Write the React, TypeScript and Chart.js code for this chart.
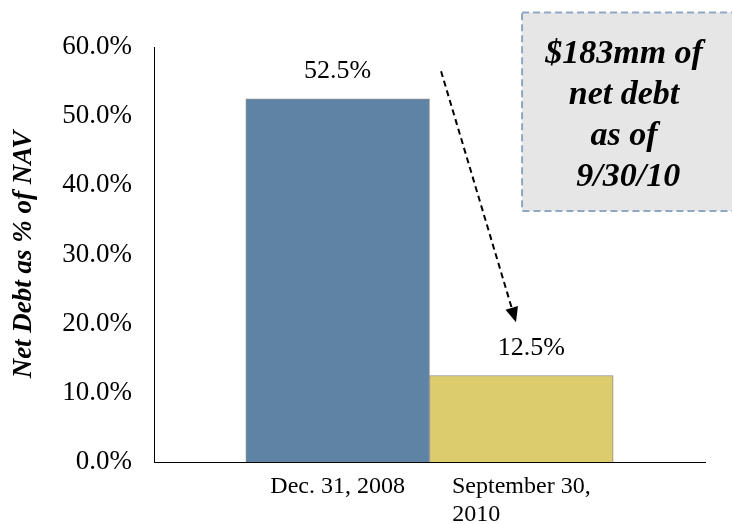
import React, { useEffect, useRef } from "react";
import { Chart, registerables } from "chart.js";

Chart.register(...registerables);

const categories: string[] = ["Dec. 31, 2008", "September 30,\n2010"];
const positions: number[] = [0, 1];
const values: number[] = [52.5, 12.5];
const valueLabels: string[] = ["52.5%", "12.5%"];
const barColors: string[] = ["#5f83a5", "#dccc6e"];
const yTicks: number[] = [0, 10, 20, 30, 40, 50, 60];
const yTitle = "Net Debt as % of NAV";
const calloutLines: string[] = ["$183mm of", "net debt", "as of", " 9/30/10"];

const SERIF = "'Liberation Serif', 'Times New Roman', serif";

const overlayPlugin = {
  id: "overlay",
  afterDatasetsDraw(chart: any) {
    const ctx = chart.ctx;
    const xs = chart.scales.x;
    const ys = chart.scales.y;
    const meta = chart.getDatasetMeta(0);
    ctx.save();
    // value labels
    ctx.font = `26px ${SERIF}`;
    ctx.fillStyle = "#000";
    ctx.textAlign = "center";
    ctx.textBaseline = "alphabetic";
    meta.data.forEach((bar: any, i: number) => {
      ctx.fillText(valueLabels[i], bar.x + (i === 1 ? 10 : 0), bar.y - 21);
    });

    // callout box
    const bx = xs.getPixelForValue(1.004);
    const by = ys.getPixelForValue(65);
    const bb = ys.getPixelForValue(36.3);
    ctx.fillStyle = "#e6e6e6";
    ctx.fillRect(bx, by, 740 - bx, bb - by);
    ctx.setLineDash([7, 4]);
    ctx.strokeStyle = "#8fa8c2";
    ctx.lineWidth = 2;
    ctx.strokeRect(bx, by, 740 - bx, bb - by);
    ctx.setLineDash([]);
    ctx.fillStyle = "#000";
    ctx.font = `bold italic 34px ${SERIF}`;
    ctx.textAlign = "center";
    const cx = bx + 102;
    calloutLines.forEach((line, i) => {
      ctx.fillText(line, cx, by + 51 + i * 40.7);
    });

    // dashed arrow
    const x1 = xs.getPixelForValue(0.563);
    const y1 = ys.getPixelForValue(56.5);
    const x2 = xs.getPixelForValue(0.971);
    const y2 = ys.getPixelForValue(20.2);
    const ang = Math.atan2(y2 - y1, x2 - x1);
    const headLen = 15;
    const hx = x2 - headLen * Math.cos(ang);
    const hy = y2 - headLen * Math.sin(ang);
    ctx.strokeStyle = "#000";
    ctx.lineWidth = 2;
    ctx.setLineDash([6, 4]);
    ctx.beginPath();
    ctx.moveTo(x1, y1);
    ctx.lineTo(hx, hy);
    ctx.stroke();
    ctx.setLineDash([]);
    ctx.beginPath();
    ctx.moveTo(x2, y2);
    ctx.lineTo(hx + 6.5 * Math.sin(ang), hy - 6.5 * Math.cos(ang));
    ctx.lineTo(hx - 6.5 * Math.sin(ang), hy + 6.5 * Math.cos(ang));
    ctx.closePath();
    ctx.fillStyle = "#000";
    ctx.fill();
    ctx.restore();
  },
};

export default function App() {
  const ref = useRef<HTMLCanvasElement | null>(null);
  useEffect(() => {
    document.body.style.margin = "0";
    const canvas = ref.current;
    if (!canvas) return;
    const padded = (s: string) => {
      const lines = s.split("\n");
      if (lines.length === 1) return s;
      const ctx = canvas.getContext("2d")!;
      ctx.font = `24px ${SERIF}`;
      const w0 = ctx.measureText(lines[0]).width;
      const sp = ctx.measureText(" ").width;
      return lines.map((l) => {
        const w = ctx.measureText(l).width;
        const n = Math.max(0, Math.round((w0 - w) / sp));
        return l + " ".repeat(n);
      });
    };
    const chart = new Chart(canvas, {
      type: "bar",
      data: {
        datasets: [
          {
            data: positions.map((p, i) => ({ x: p, y: values[i] })),
            backgroundColor: barColors,
            borderColor: "#8e8e8e",
            borderWidth: 1,
            barPercentage: 1,
            categoryPercentage: 1,
          },
        ],
      },
      options: {
        animation: false,
        responsive: false,
        maintainAspectRatio: false,
        layout: { padding: { left: 0, right: 27, top: 47, bottom: 0 } },
        plugins: { legend: { display: false }, tooltip: { enabled: false } },
        scales: {
          x: {
            type: "linear",
            min: -1,
            max: 2,
            offset: false,
            grid: { display: false, offset: false },
            border: { display: true, color: "#000", width: 1 },
            afterBuildTicks: (scale: any) => {
              scale.ticks = positions.map((v) => ({ value: v }));
            },
            afterFit: (scale: any) => {
              scale.height = 62;
            },
            ticks: {
              autoSkip: false,
              maxRotation: 0,
              padding: 3,
              color: "#000",
              font: { family: SERIF, size: 24, lineHeight: 1.15 },
              callback: (v: any) => {
                const i = positions.indexOf(Number(v));
                return i >= 0 ? padded(categories[i]) : "";
              },
            },
          },
          y: {
            min: 0,
            max: 60,
            grid: { display: false },
            border: { display: true, color: "#000", width: 1 },
            afterBuildTicks: (scale: any) => {
              scale.ticks = yTicks.map((v) => ({ value: v }));
            },
            afterFit: (scale: any) => {
              scale.width = 154;
            },
            title: {
              display: true,
              text: yTitle,
              color: "#000",
              padding: { top: 8, bottom: 0 },
              font: { family: SERIF, size: 27, weight: "bold", style: "italic" },
            },
            ticks: {
              padding: 14,
              color: "#000",
              font: { family: SERIF, size: 27 },
              callback: (v: any) => Number(v).toFixed(1) + "%",
            },
          },
        },
      },
      plugins: [overlayPlugin],
    });
    return () => chart.destroy();
  }, []);
  return <canvas ref={ref} width={732} height={524} style={{ display: "block" }} />;
}
